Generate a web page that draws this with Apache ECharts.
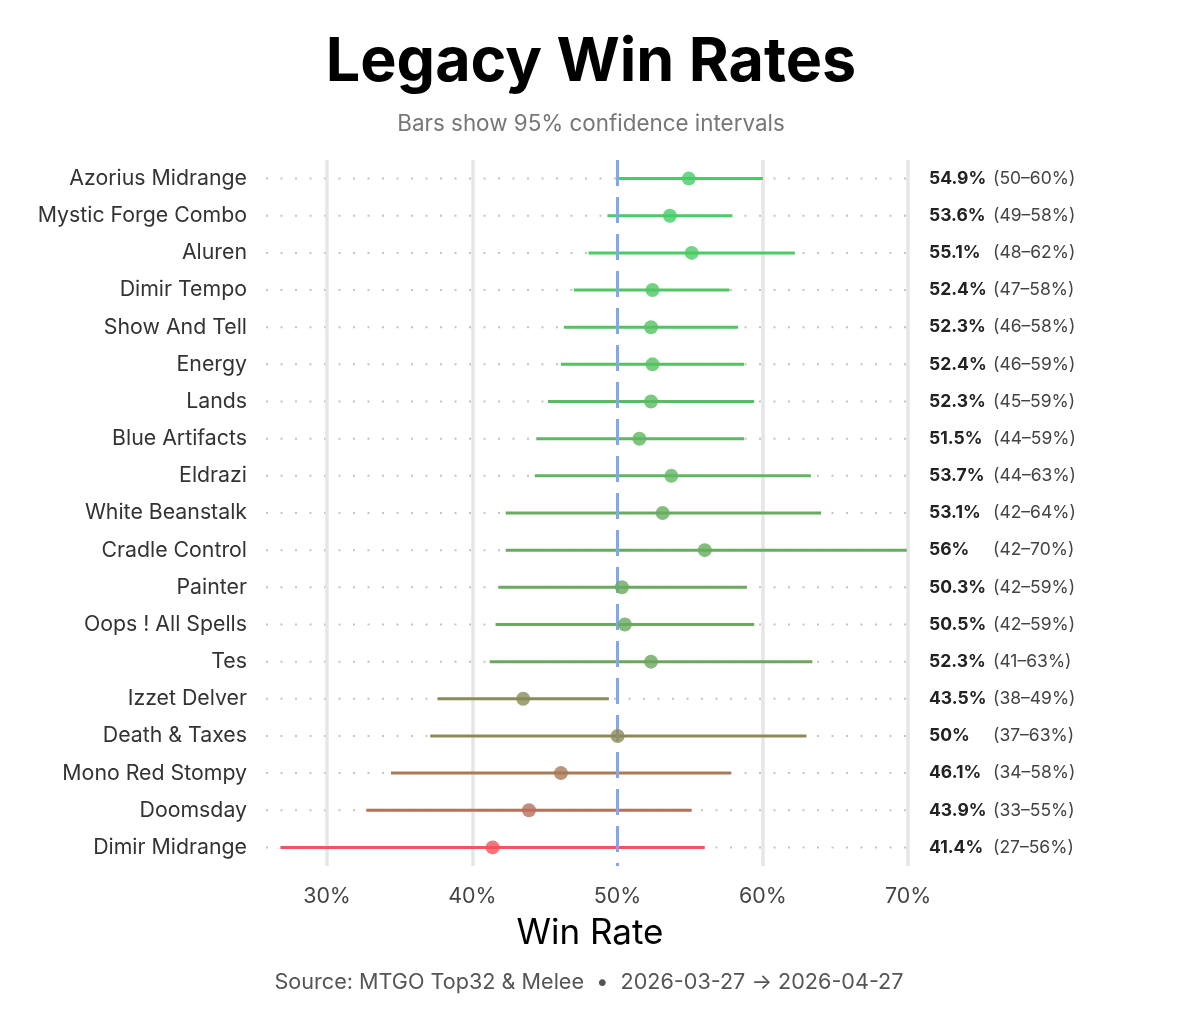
<!DOCTYPE html>
<html>
<head>
<meta charset="utf-8">
<script src="https://cdn.jsdelivr.net/npm/echarts@6/dist/echarts.min.js"></script>
<style>
  html, body { margin: 0; padding: 0; background: #ffffff; }
  #chart { width: 1200px; height: 1029px; }
</style>
</head>
<body>
<div id="chart"></div>
<script>
// ---- data ----
const categories = [
  'Azorius Midrange', 'Mystic Forge Combo', 'Aluren', 'Dimir Tempo', 'Show And Tell',
  'Energy', 'Lands', 'Blue Artifacts', 'Eldrazi', 'White Beanstalk',
  'Cradle Control', 'Painter', 'Oops ! All Spells', 'Tes', 'Izzet Delver',
  'Death & Taxes', 'Mono Red Stompy', 'Doomsday', 'Dimir Midrange'
];
const winRate = [54.9, 53.6, 55.1, 52.4, 52.3, 52.4, 52.3, 51.5, 53.7, 53.1,
                 56, 50.3, 50.5, 52.3, 43.5, 50, 46.1, 43.9, 41.4];
const ciLow  = [50.0, 49.3, 48.0, 47.0, 46.3, 46.1, 45.2, 44.4, 44.3, 42.3,
                42.3, 41.8, 41.6, 41.2, 37.6, 37.1, 34.4, 32.7, 26.8];
const ciHigh = [60.0, 57.9, 62.2, 57.7, 58.3, 58.7, 59.4, 58.7, 63.3, 64.0,
                69.9, 58.9, 59.4, 63.4, 49.4, 63.0, 57.8, 55.1, 56.0];
const xTicks = [30, 40, 50, 60, 70];
const refLine = 50;

// ---- styling helpers ----
const X_MIN = 25.8, X_MAX = 70.4;
const FONT = 'Inter, "Noto Sans", sans-serif';
const colorStops = [
  [26.8, [240, 84, 92]],
  [32.7, [184, 112, 90]],
  [34.4, [168, 123, 87]],
  [37.3, [141, 138, 88]],
  [41.5, [106, 168, 94]],
  [44.3, [96, 182, 98]],
  [46.0, [85, 193, 98]],
  [48.0, [76, 203, 101]],
  [50.0, [64, 208, 104]]
];
function colorFor(lo) {
  if (lo <= colorStops[0][0]) return 'rgb(' + colorStops[0][1].join(',') + ')';
  for (let i = 1; i < colorStops.length; i++) {
    const [x1, c1] = colorStops[i];
    const [x0, c0] = colorStops[i - 1];
    if (lo <= x1) {
      const t = (lo - x0) / (x1 - x0);
      const c = c0.map((v, k) => Math.round(v + (c1[k] - v) * t));
      return 'rgb(' + c.join(',') + ')';
    }
  }
  return 'rgb(' + colorStops[colorStops.length - 1][1].join(',') + ')';
}

const rowData = categories.map((c, i) => [ciLow[i], ciHigh[i], i]);
const dotData = categories.map((c, i) => ({
  value: [winRate[i], i],
  itemStyle: { color: colorFor(ciLow[i]) }
}));

const chart = echarts.init(document.getElementById('chart'), null, { renderer: 'canvas' });

const option = {
  backgroundColor: '#ffffff',
  animation: false,
  textStyle: { fontFamily: FONT },
  grid: { left: 266, right: 286, top: 160, bottom: 163, containLabel: false },
  graphic: [
    {
      type: 'text', x: 591, y: 63,
      style: { text: 'Legacy Win Rates', fontFamily: FONT, fontSize: 61, fontWeight: 'bold',
               fill: '#000', align: 'center', verticalAlign: 'middle' }
    },
    {
      type: 'text', x: 591, y: 124,
      style: { text: 'Bars show 95% confidence intervals', fontFamily: FONT, fontSize: 22.4,
               fill: '#777', align: 'center', verticalAlign: 'middle' }
    },
    {
      type: 'text', x: 590, y: 933,
      style: { text: 'Win Rate', fontFamily: FONT, fontSize: 35,
               fill: '#000', align: 'center', verticalAlign: 'middle' }
    },
    {
      type: 'text', x: 589, y: 982,
      style: { text: 'Source: MTGO Top32 & Melee  \u2022  2026-03-27 \u2192 2026-04-27', fontFamily: FONT, fontSize: 21.6,
               fill: '#555', align: 'center', verticalAlign: 'middle' }
    }
  ],
  xAxis: {
    type: 'value', min: X_MIN, max: X_MAX,
    axisLine: { show: false }, axisTick: { show: false }, splitLine: { show: false },
    axisLabel: {
      customValues: xTicks, formatter: v => v + '%',
      fontSize: 21.4, color: '#444', margin: 20, fontFamily: FONT
    }
  },
  yAxis: [
    {
      type: 'category', data: categories, inverse: true,
      axisLine: { show: false }, axisTick: { show: false }, splitLine: { show: false },
      axisLabel: { fontSize: 21.3, color: '#333', margin: 19, fontFamily: FONT }
    },
    {
      type: 'category', data: categories, inverse: true, position: 'right',
      axisLine: { show: false }, axisTick: { show: false }, splitLine: { show: false },
      axisLabel: {
        margin: 15, align: 'left',
        formatter: (val, i) => '{v|' + winRate[i] + '%}{r|(' + Math.round(ciLow[i]) + '\u2013' + Math.round(ciHigh[i]) + '%)}',
        rich: {
          v: { fontFamily: FONT, fontSize: 17.5, fontWeight: 'bold', color: '#222', width: 64 },
          r: { fontFamily: FONT, fontSize: 17.5, color: '#444' }
        }
      }
    }
  ],
  series: [
    {
      // dotted row guides
      type: 'custom', z: 1, silent: true,
      data: rowData,
      encode: { x: [0, 1], y: 2 },
      renderItem: (params, api) => {
        const idx = api.value(2);
        const a = api.coord([X_MIN, idx]);
        const b = api.coord([X_MAX, idx]);
        return {
          type: 'line',
          shape: { x1: a[0], y1: a[1], x2: b[0], y2: b[1] },
          style: { stroke: '#c4c4c4', lineWidth: 2, lineDash: [2, 12.5] }
        };
      }
    },
    {
      // vertical gridlines (helper, invisible points)
      type: 'scatter', z: 2, silent: true, symbolSize: 0,
      data: dotData,
      markLine: {
        silent: true, symbol: 'none', z: 2,
        label: { show: false },
        lineStyle: { color: '#e6e6e6', width: 3.5, type: 'solid' },
        data: xTicks.filter(t => t !== refLine).map(t => ({ xAxis: t }))
      }
    },
    {
      // confidence interval bars
      type: 'custom', z: 3, silent: true,
      data: rowData,
      encode: { x: [0, 1], y: 2 },
      renderItem: (params, api) => {
        const idx = api.value(2);
        const lo = api.value(0), hi = api.value(1);
        const a = api.coord([lo, idx]);
        const b = api.coord([hi, idx]);
        return {
          type: 'line',
          shape: { x1: a[0], y1: a[1], x2: b[0], y2: b[1] },
          style: { stroke: colorFor(lo), lineWidth: 3 }
        };
      }
    },
    {
      type: 'scatter', z: 5, silent: true,
      symbol: 'circle', symbolSize: 14,
      data: dotData,
      markLine: {
        silent: true, symbol: 'none', z: 4,
        label: { show: false },
        lineStyle: { color: '#7fa8ee', width: 3, type: [26, 11] },
        data: [{ xAxis: refLine }]
      }
    }
  ]
};
chart.setOption(option);
</script>
</body>
</html>
